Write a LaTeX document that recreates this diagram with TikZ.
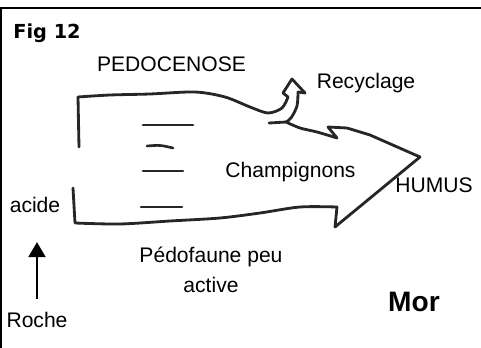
\documentclass[tikz,border=0pt]{standalone}
\usepackage{fontspec}
\setmainfont{Liberation Sans}
\newfontfamily\figfont{DejaVu Sans}
\usetikzlibrary{arrows.meta}
\tikzset{
  outline/.style={draw=black!85,line width=1.6pt,line cap=round,line join=round},
  stripe/.style={draw=black!85,line width=1.5pt,line cap=round},
  txt/.style={inner sep=0pt,font=\fontsize{12}{14}\selectfont},
  frameline/.style={draw=black,line width=1.2pt},
  rise/.style={draw=black,line width=1.1pt,-{Triangle[width=3.4mm,length=3mm]}}
}

\begin{document}
\begin{tikzpicture}[x=0.02cm,y=-0.02cm]
  \useasboundingbox (0,0) rectangle (481,348);
  % frame
  \draw[frameline] (0.6,348) -- (0.6,7.6) -- (481,7.6);

  % texts
  \node[txt,font=\figfont\bfseries\fontsize{11}{13}\selectfont] (fig) at (47,33.5) {Fig 12};
  \node[txt] (pedo) at (171.5,64.5) {PEDOCENOSE};
  \node[txt] (recy) at (366,83.5) {Recyclage};
  \node[txt] (champ) at (290.5,172.5) {Champignons};
  \node[txt] (humus) at (434,185) {HUMUS};
  \node[txt] (acide) at (35,205) {acide};
  \node[txt,align=center,font=\fontsize{12}{17}\selectfont] (faune) at (211,270) {Pédofaune peu\\active};
  \node[txt] (roche) at (37,320) {Roche};
  \node[txt,font=\bfseries\fontsize{16}{18}\selectfont] (mor) at (414,302) {Mor};

  % roche -> acide
  \draw[rise,shorten <=2.6mm,shorten >=5.8mm] (roche.north) -- (roche.north |- acide.south);

  % hand drawn arrow
  \draw[outline] (79,147) -- (78,97);
  \draw[outline] plot[smooth] coordinates {(78,97) (110,95) (150,94) (195,92) (225,97) (250,107) (268,113) (282,108) (288,97)}
    -- (283,93) -- (292,79) -- (305,93) -- (298,92);
  \draw[outline] plot[smooth] coordinates {(298,92) (297,106) (291,118) (286,122)};
  \draw[outline] (269,123) -- (286,122);
  \draw[outline] plot[smooth] coordinates {(286,122) (300,128) (317,132) (337,138)}
    -- (328,127) -- (347,128) -- (370,135) -- (420,157) -- (335,227) -- (337,207);
  \draw[outline] plot[smooth] coordinates {(337,207) (300,207) (260,213) (220,218) (170,221) (120,224) (75,223)}
    -- (73,188);

  % stripes
  \draw[stripe] (143,125) -- (193,125);
  \draw[stripe] (147,146) .. controls (160,145) .. (173,148);
  \draw[stripe] (143,171) -- (183,171);
  \draw[stripe] (141,207) -- (182,207);
\end{tikzpicture}
\end{document}
